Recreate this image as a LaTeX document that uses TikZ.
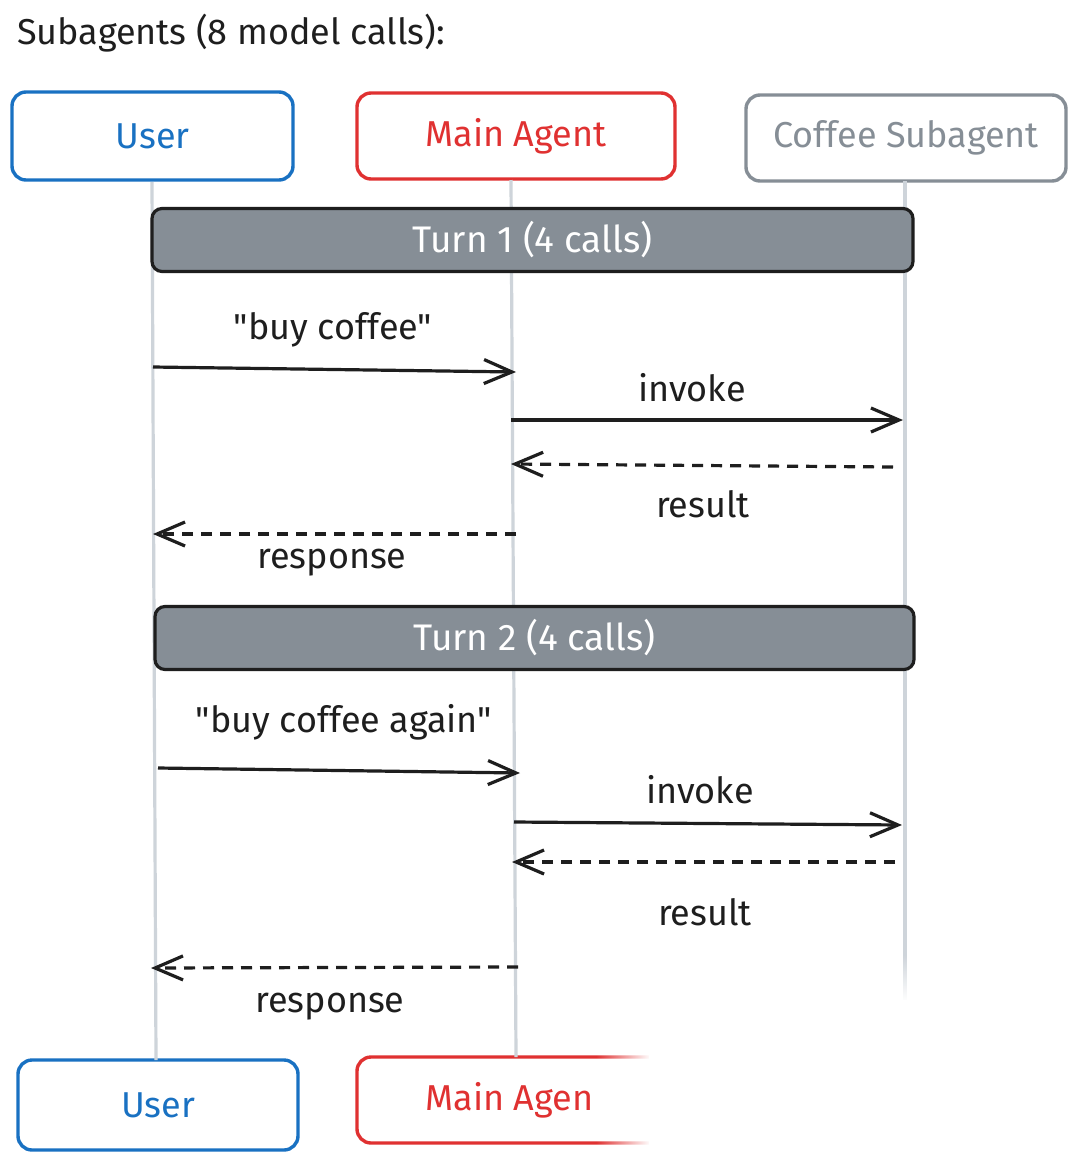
\documentclass[tikz,border=0pt]{standalone}
\usepackage{fontspec}
\setmainfont{Fira Sans}[Ligatures=TeXOff]
\usetikzlibrary{arrows.meta,fadings}
\definecolor{cblue}{HTML}{1971C2}
\definecolor{cred}{HTML}{E03131}
\definecolor{cgray}{HTML}{868E96}
\definecolor{cline}{HTML}{CED4DA}
\definecolor{cink}{HTML}{1E1E1E}
\tikzfading[name=fadeR, left color=transparent!100, right color=transparent!0]
\tikzfading[name=fadeD, top color=transparent!100, bottom color=transparent!0]
\tikzset{
  actor/.style={draw, line width=3.4pt, rounded corners=14pt, minimum height=88pt, fill=white,
    font=\fontsize{36}{42}\selectfont, inner sep=0pt},
  lifeline/.style={draw=cline, line width=3.2pt},
  turnbox/.style={draw=cink, fill=cgray, line width=3.2pt, rounded corners=10pt, minimum height=63pt,
    text=white, font=\fontsize{37}{42}\selectfont, inner sep=0pt},
  msg/.style={draw=cink, line width=3.2pt, -{Straight Barb[length=28pt,width=24pt,line width=3.2pt]}},
  reply/.style={msg, dash pattern=on 11pt off 8pt},
  lbl/.style={text=cink, font=\fontsize{36}{42}\selectfont, inner sep=0pt},
}
\begin{document}
\begin{tikzpicture}[x=1pt,y=-1pt]
\useasboundingbox (0,0) rectangle (1080,1163);
\fill[white] (0,0) rectangle (1080,1163);

\node[lbl, anchor=west] (title) at (17,33) {Subagents (8 model calls):};

% top actors
\node[actor, draw=cblue, text=cblue, minimum width=281pt] (userT) at (152.5,136) {User};
\node[actor, draw=cred, text=cred, minimum width=318pt, minimum height=86pt] (mainT) at (516,136) {Main Agent};
\node[actor, draw=cgray, text=cgray, minimum width=320pt, minimum height=86pt] (coffT) at (906,138) {Coffee Subagent};

% bottom actors
\node[actor, draw=cblue, text=cblue, minimum width=280pt, minimum height=90pt] (userB) at (158,1105) {User};
\node[actor, draw=cred, text=cred, minimum width=318pt, minimum height=86pt] (mainB) at (516,1100) {Main Agen\phantom{t}};

% lifelines
\coordinate (coffEnd) at (905,1000);
\draw[lifeline] (152,182) -- (156,1060);
\draw[lifeline] (511,180) -- (516,1057);
\draw[lifeline] (905,181) -- (coffEnd);

% fade of the Coffee lifeline
\fill[white, path fading=fadeD] (888,955) rectangle (922,1001);

% Turn 1
\node[turnbox, minimum width=761pt] (turn1) at (532.5,240) {Turn 1 (4 calls)};

\coordinate (a1s) at (153,367);
\coordinate (a1e) at (516,372);
\draw[msg] (a1s) -- (a1e);
\node[lbl] (l1) at (333,330) {"buy coffee"};

\coordinate (a2s) at (511,420);
\coordinate (a2e) at (903,420);
\draw[msg] (a2s) -- (a2e);
\node[lbl] (l2) at (692,388) {invoke};

\coordinate (a3s) at (893,467);
\coordinate (a3e) at (511,464);
\draw[reply] (a3s) -- (a3e);
\node[lbl] (l3) at (703,504) {result};

\coordinate (a4s) at (516,534);
\coordinate (a4e) at (153,534);
\draw[reply] (a4s) -- (a4e);
\node[lbl] (l4) at (332,563) {response};

% Turn 2
\node[turnbox, minimum width=759pt] (turn2) at (534.5,638) {Turn 2 (4 calls)};

\coordinate (b1s) at (158,768);
\coordinate (b1e) at (520,773);
\draw[msg] (b1s) -- (b1e);
\node[lbl] (k1) at (344,722) {"buy coffee again"};

\coordinate (b2s) at (514,822);
\coordinate (b2e) at (902,825);
\draw[msg] (b2s) -- (b2e);
\node[lbl] (k2) at (700,790) {invoke};

\coordinate (b3s) at (895,862);
\coordinate (b3e) at (512,862);
\draw[reply] (b3s) -- (b3e);
\node[lbl] (k3) at (705,912) {result};

\coordinate (b4s) at (518,967);
\coordinate (b4e) at (151,968);
\draw[reply] (b4s) -- (b4e);
\node[lbl] (k4) at (330,1007) {response};

% fade of the bottom Main Agent box
\fill[white, path fading=fadeR] (596,1040) rectangle (650,1163);
\fill[white] (649,1040) rectangle (1080,1163);
\end{tikzpicture}
\end{document}
